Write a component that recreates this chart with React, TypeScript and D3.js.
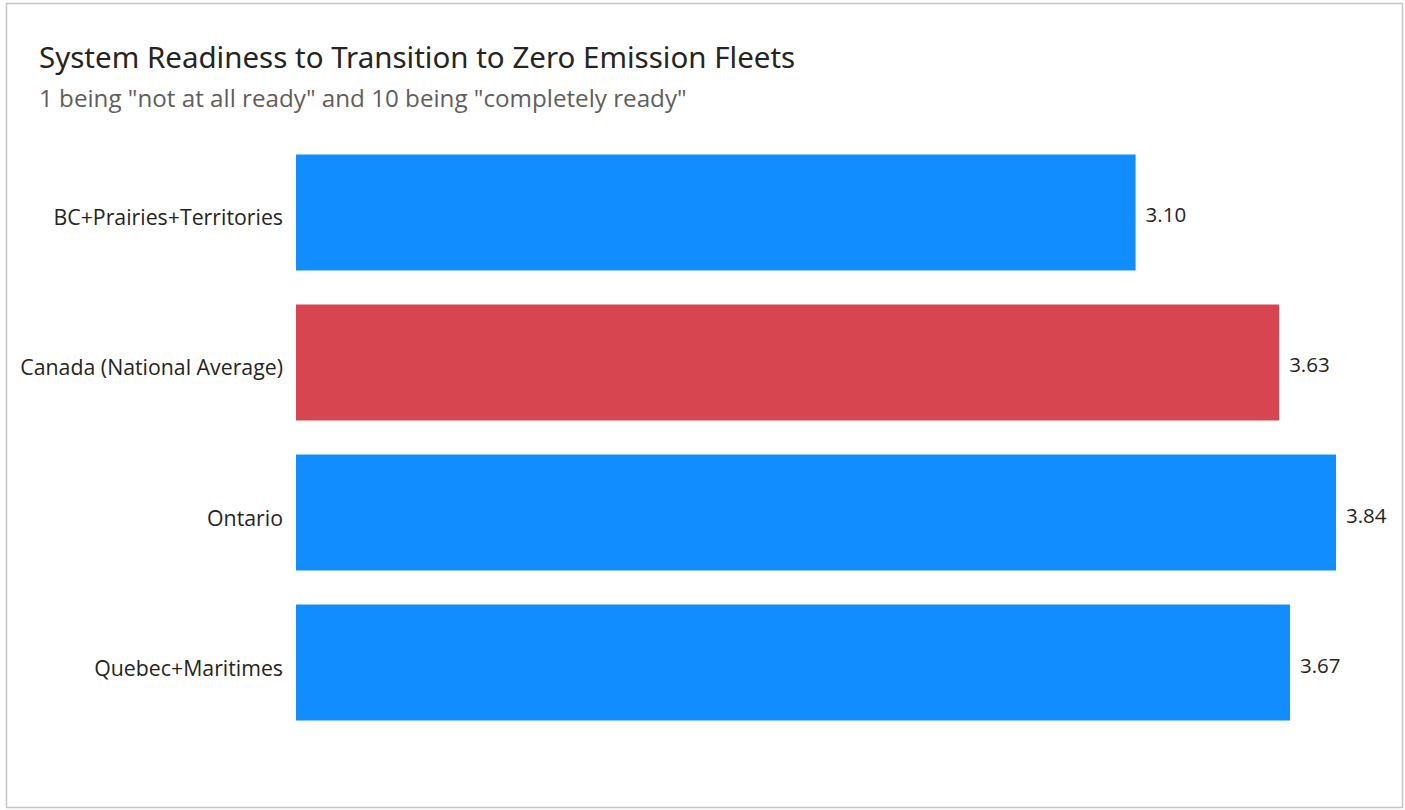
import React from "react";
import * as d3 from "d3";

const categories = [
  "BC+Prairies+Territories",
  "Canada (National Average)",
  "Ontario",
  "Quebec+Maritimes",
];
const readiness = [3.1, 3.63, 3.84, 3.67];
const highlighted = ["Canada (National Average)"];

const title = "System Readiness to Transition to Zero Emission Fleets";
const subtitle = '1 being "not at all ready" and 10 being "completely ready"';

const W = 1405;
const H = 810;

export default function App() {
  const x = d3.scaleLinear().domain([0, d3.max(readiness) as number]).range([296, 1336]);
  const y = d3
    .scaleBand<string>()
    .domain(categories)
    .range([137.5, 737.5])
    .paddingInner(0.227)
    .paddingOuter(0.1133);

  const font = "'Segoe UI', 'Open Sans', 'Noto Sans', sans-serif";

  return (
    <svg
      width={W}
      height={H}
      style={{ position: "absolute", left: 0, top: 0, background: "#fff" }}
    >
      <rect x={6.5} y={3.5} width={1396} height={804} fill="#fff" stroke="#c8c6c4" strokeWidth={1.5} />
      <text x={39} y={68} fontFamily="'DIN', 'Noto Sans', sans-serif" fontSize={29.5} fill="#252423">
        {title}
      </text>
      <text x={39} y={107} fontFamily={font} fontSize={24.2} fill="#605e5c">
        {subtitle}
      </text>
      {categories.map((c, i) => {
        const v = readiness[i];
        const yy = y(c) as number;
        const bh = y.bandwidth();
        const cy = yy + bh / 2;
        return (
          <g key={c}>
            <rect
              x={x(0)}
              y={yy}
              width={x(v) - x(0)}
              height={bh}
              fill={highlighted.includes(c) ? "#d64550" : "#118dff"}
            />
            <text
              x={283}
              y={cy + 13}
              textAnchor="end"
              fontFamily={font}
              fontSize={21.3}
              fill="#252423"
            >
              {c}
            </text>
            <text
              x={x(v) + 10}
              y={cy + 10}
              fontFamily={font}
              fontSize={20.5}
              fill="#252423"
            >
              {d3.format(".2f")(v)}
            </text>
          </g>
        );
      })}
    </svg>
  );
}
